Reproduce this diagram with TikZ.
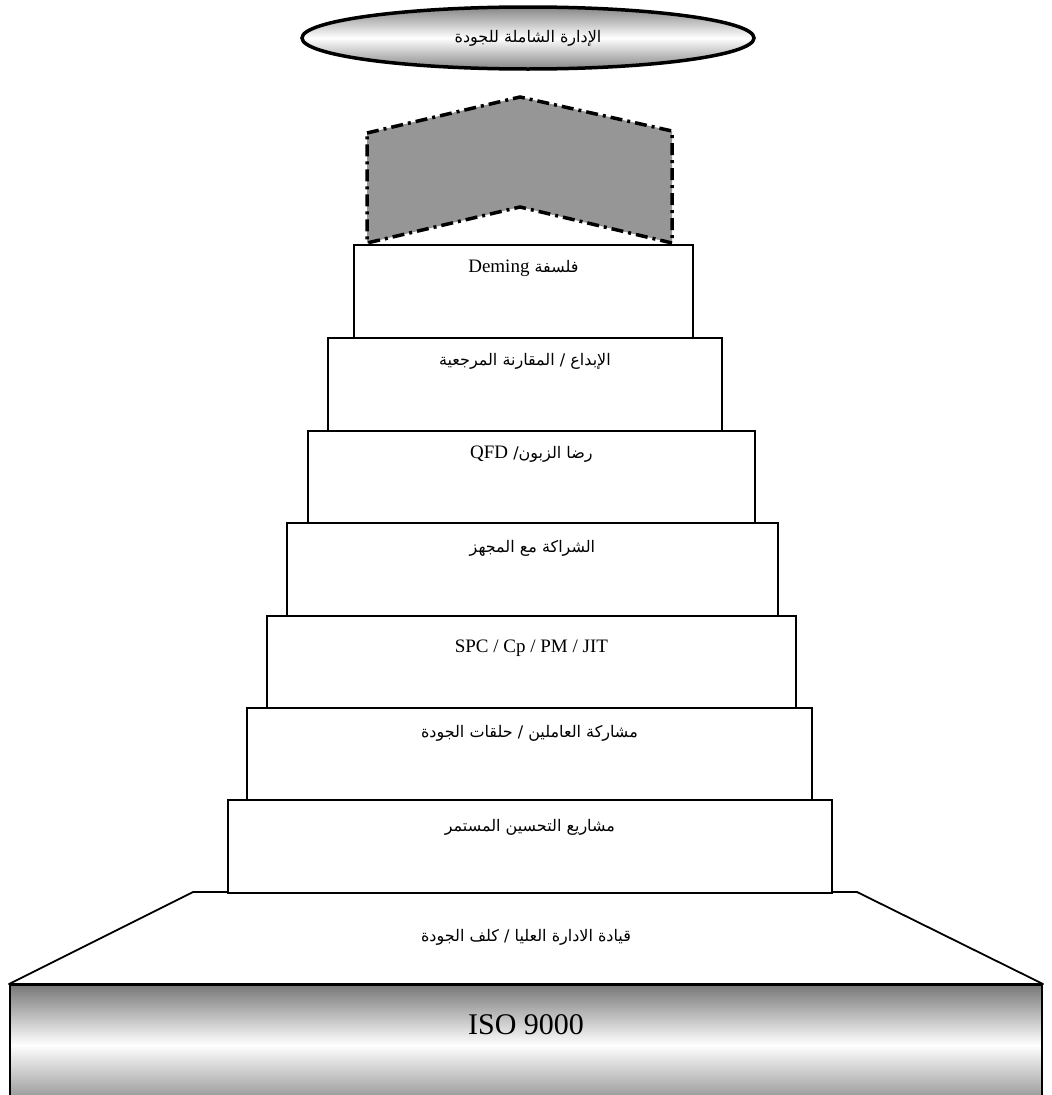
\documentclass[tikz,border=0pt]{standalone}
\usepackage{fontspec}
\setmainfont{Liberation Serif}
\newfontfamily\arabicfont[Script=Arabic]{DejaVu Sans}
\TeXXeTstate=1
\usetikzlibrary{shapes.geometric}
\definecolor{chevgray}{gray}{0.59}
\definecolor{shadegray}{gray}{0.47}
\begin{document}
\begin{tikzpicture}[x=1pt,y=-1pt,
  stepbox/.style={draw, line width=1.8pt, fill=white, anchor=north west, inner sep=0pt},
  artext/.style={font=\fontsize{16}{19}\selectfont\arabicfont, inner sep=0pt},
  latext/.style={font=\fontsize{19}{22}\selectfont\rmfamily, inner sep=0pt}]
\useasboundingbox (0,0) rectangle (1052,1095);
% ISO base
\node[draw, line width=2pt, anchor=north west, inner sep=0pt,
  minimum width=1032pt, minimum height=120pt,
  top color=shadegray, bottom color=shadegray!85, middle color=white] (iso) at (9,984) {};
\node[font=\fontsize{30}{34}\selectfont\rmfamily, inner sep=0pt] (isot) at (526,1025) {ISO 9000};
% trapezoid
\draw[line width=1.8pt, fill=white, line join=round] (193,892) -- (857,892) -- (1043,984) -- (9,984) -- cycle;
\node[artext] (t8) at (526,937) {\beginR قيادة الادارة العليا / كلف الجودة\endR};
% boxes
\node[stepbox, minimum width=604pt, minimum height=93pt] (b7) at (227,799) {};
\node[stepbox, minimum width=565pt, minimum height=92pt] (b6) at (246,707) {};
\node[stepbox, minimum width=529pt, minimum height=92pt] (b5) at (266,615) {};
\node[stepbox, minimum width=491pt, minimum height=93pt] (b4) at (286,522) {};
\node[stepbox, minimum width=447pt, minimum height=92pt] (b3) at (307,430) {};
\node[stepbox, minimum width=394pt, minimum height=93pt] (b2) at (327,337) {};
\node[stepbox, minimum width=339pt, minimum height=93pt] (b1) at (353,244) {};
\node[artext] (t1) at ([yshift=-24pt]b1.north) {\beginR فلسفة \beginL{\rmfamily\fontsize{19}{22}\selectfont Deming}\endL\endR};
\node[artext] (t2) at ([yshift=-24pt]b2.north) {\beginR الإبداع / المقارنة المرجعية\endR};
\node[artext] (t3) at ([yshift=-24pt]b3.north) {\beginR رضا الزبون/ \beginL{\rmfamily\fontsize{19}{22}\selectfont QFD}\endL\endR};
\node[artext] (t4) at ([yshift=-26pt]b4.north) {\beginR الشراكة مع المجهز\endR};
\node[latext] (t5) at ([yshift=-33pt]b5.north) {SPC / Cp / PM / JIT};
\node[artext] (t6) at ([yshift=-26pt]b6.north) {\beginR مشاركة العاملين / حلقات الجودة\endR};
\node[artext] (t7) at ([yshift=-28pt]b7.north) {\beginR مشاريع التحسين المستمر\endR};
% chevron
\draw[fill=chevgray, line width=3.5pt, dash pattern=on 12pt off 5pt on 3pt off 5pt]
  (367,133) -- (520,97) -- (672,131) -- (672,243) -- (520,207) -- (367,243) -- cycle;
% top ellipse
\node[ellipse, draw, line width=3.5pt, minimum width=452pt, minimum height=62pt,
  top color=shadegray!90, bottom color=shadegray!90, middle color=white, inner sep=0pt] (top) at (528,38) {};
\node[artext] (t0) at (top.center) {\beginR الإدارة الشاملة للجودة\endR};
\end{tikzpicture}
\end{document}
